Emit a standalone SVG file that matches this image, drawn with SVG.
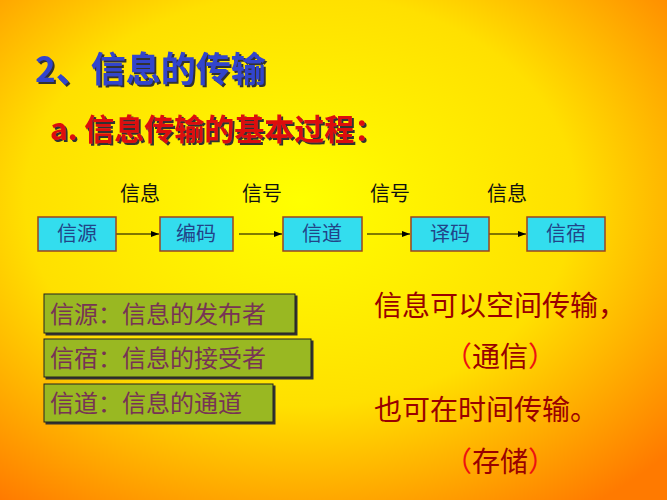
<svg xmlns="http://www.w3.org/2000/svg" width="667" height="500" viewBox="0 0 667 500">
<defs>
<radialGradient id="bg" cx="0.45" cy="0.4" r="0.75">
<stop offset="0" stop-color="#ffff00"/><stop offset="0.55" stop-color="#ffe000"/><stop offset="1" stop-color="#ff7a00"/>
</radialGradient>
<marker id="ar" markerWidth="8" markerHeight="6" refX="8" refY="3" orient="auto"><path d="M0,0 L8,3 L0,6 z" fill="#000"/></marker>
<filter id="sh"><feDropShadow dx="2" dy="2" stdDeviation="0.5" flood-color="#333"/></filter>
</defs>
<style>
text{font-family:"Noto Sans CJK SC","Liberation Sans",sans-serif}
.bx{fill:#33ddee;stroke:#994422;stroke-width:1.5}
.bt{font-size:20px;fill:#224488;text-anchor:middle}
.lb{font-size:20px;fill:#111;text-anchor:middle}
.gb{fill:#99b822;stroke:#222;stroke-width:1;filter:url(#sh)}
.gt{font-size:24px;fill:#773355}
.rt{font-size:28px;fill:#990000}
.ln{stroke:#000;stroke-width:1;marker-end:url(#ar)}
</style>
<rect width="667" height="500" fill="url(#bg)"/>
<text x="35" y="82" font-size="35" font-weight="bold" fill="#3344cc" filter="url(#sh)">2、信息的传输</text>
<text x="50" y="140" font-size="30" font-weight="bold" fill="#dd1111" filter="url(#sh)">a. 信息传输的基本过程：</text>
<g id="labels">
<text class="lb" x="140" y="201">信息</text>
<text class="lb" x="262" y="201">信号</text>
<text class="lb" x="390" y="201">信号</text>
<text class="lb" x="507" y="201">信息</text>
</g>
<g id="connectors">
<line class="ln" x1="116" y1="234" x2="159" y2="234"/>
<line class="ln" x1="239" y1="234" x2="282" y2="234"/>
<line class="ln" x1="367" y1="234" x2="410" y2="234"/>
<line class="ln" x1="489" y1="234" x2="526" y2="234"/>
</g>
<g id="n1"><rect class="bx" x="38" y="217" width="78" height="34"/><text class="bt" x="77" y="241">信源</text></g>
<g id="n2"><rect class="bx" x="160" y="217" width="73" height="34"/><text class="bt" x="196" y="241">编码</text></g>
<g id="n3"><rect class="bx" x="283" y="217" width="79" height="34"/><text class="bt" x="322" y="241">信道</text></g>
<g id="n4"><rect class="bx" x="411" y="217" width="78" height="34"/><text class="bt" x="450" y="241">译码</text></g>
<g id="n5"><rect class="bx" x="527" y="217" width="78" height="34"/><text class="bt" x="566" y="241">信宿</text></g>
<g id="g1"><rect class="gb" x="44" y="294" width="251" height="39"/><text class="gt" x="50" y="323">信源：信息的发布者</text></g>
<g id="g2"><rect class="gb" x="44" y="339" width="267" height="38"/><text class="gt" x="50" y="367">信宿：信息的接受者</text></g>
<g id="g3"><rect class="gb" x="44" y="384" width="229" height="38"/><text class="gt" x="50" y="412">信道：信息的通道</text></g>
<g id="right">
<text class="rt" x="374" y="316">信息可以空间传输，</text>
<text class="rt" x="500" y="367" text-anchor="middle"><tspan fill="#ee1111">（</tspan>通信<tspan fill="#ee1111">）</tspan></text>
<text class="rt" x="374" y="420">也可在时间传输。</text>
<text class="rt" x="500" y="472" text-anchor="middle"><tspan fill="#ee1111">（</tspan>存储<tspan fill="#ee1111">）</tspan></text>
</g>
</svg>
